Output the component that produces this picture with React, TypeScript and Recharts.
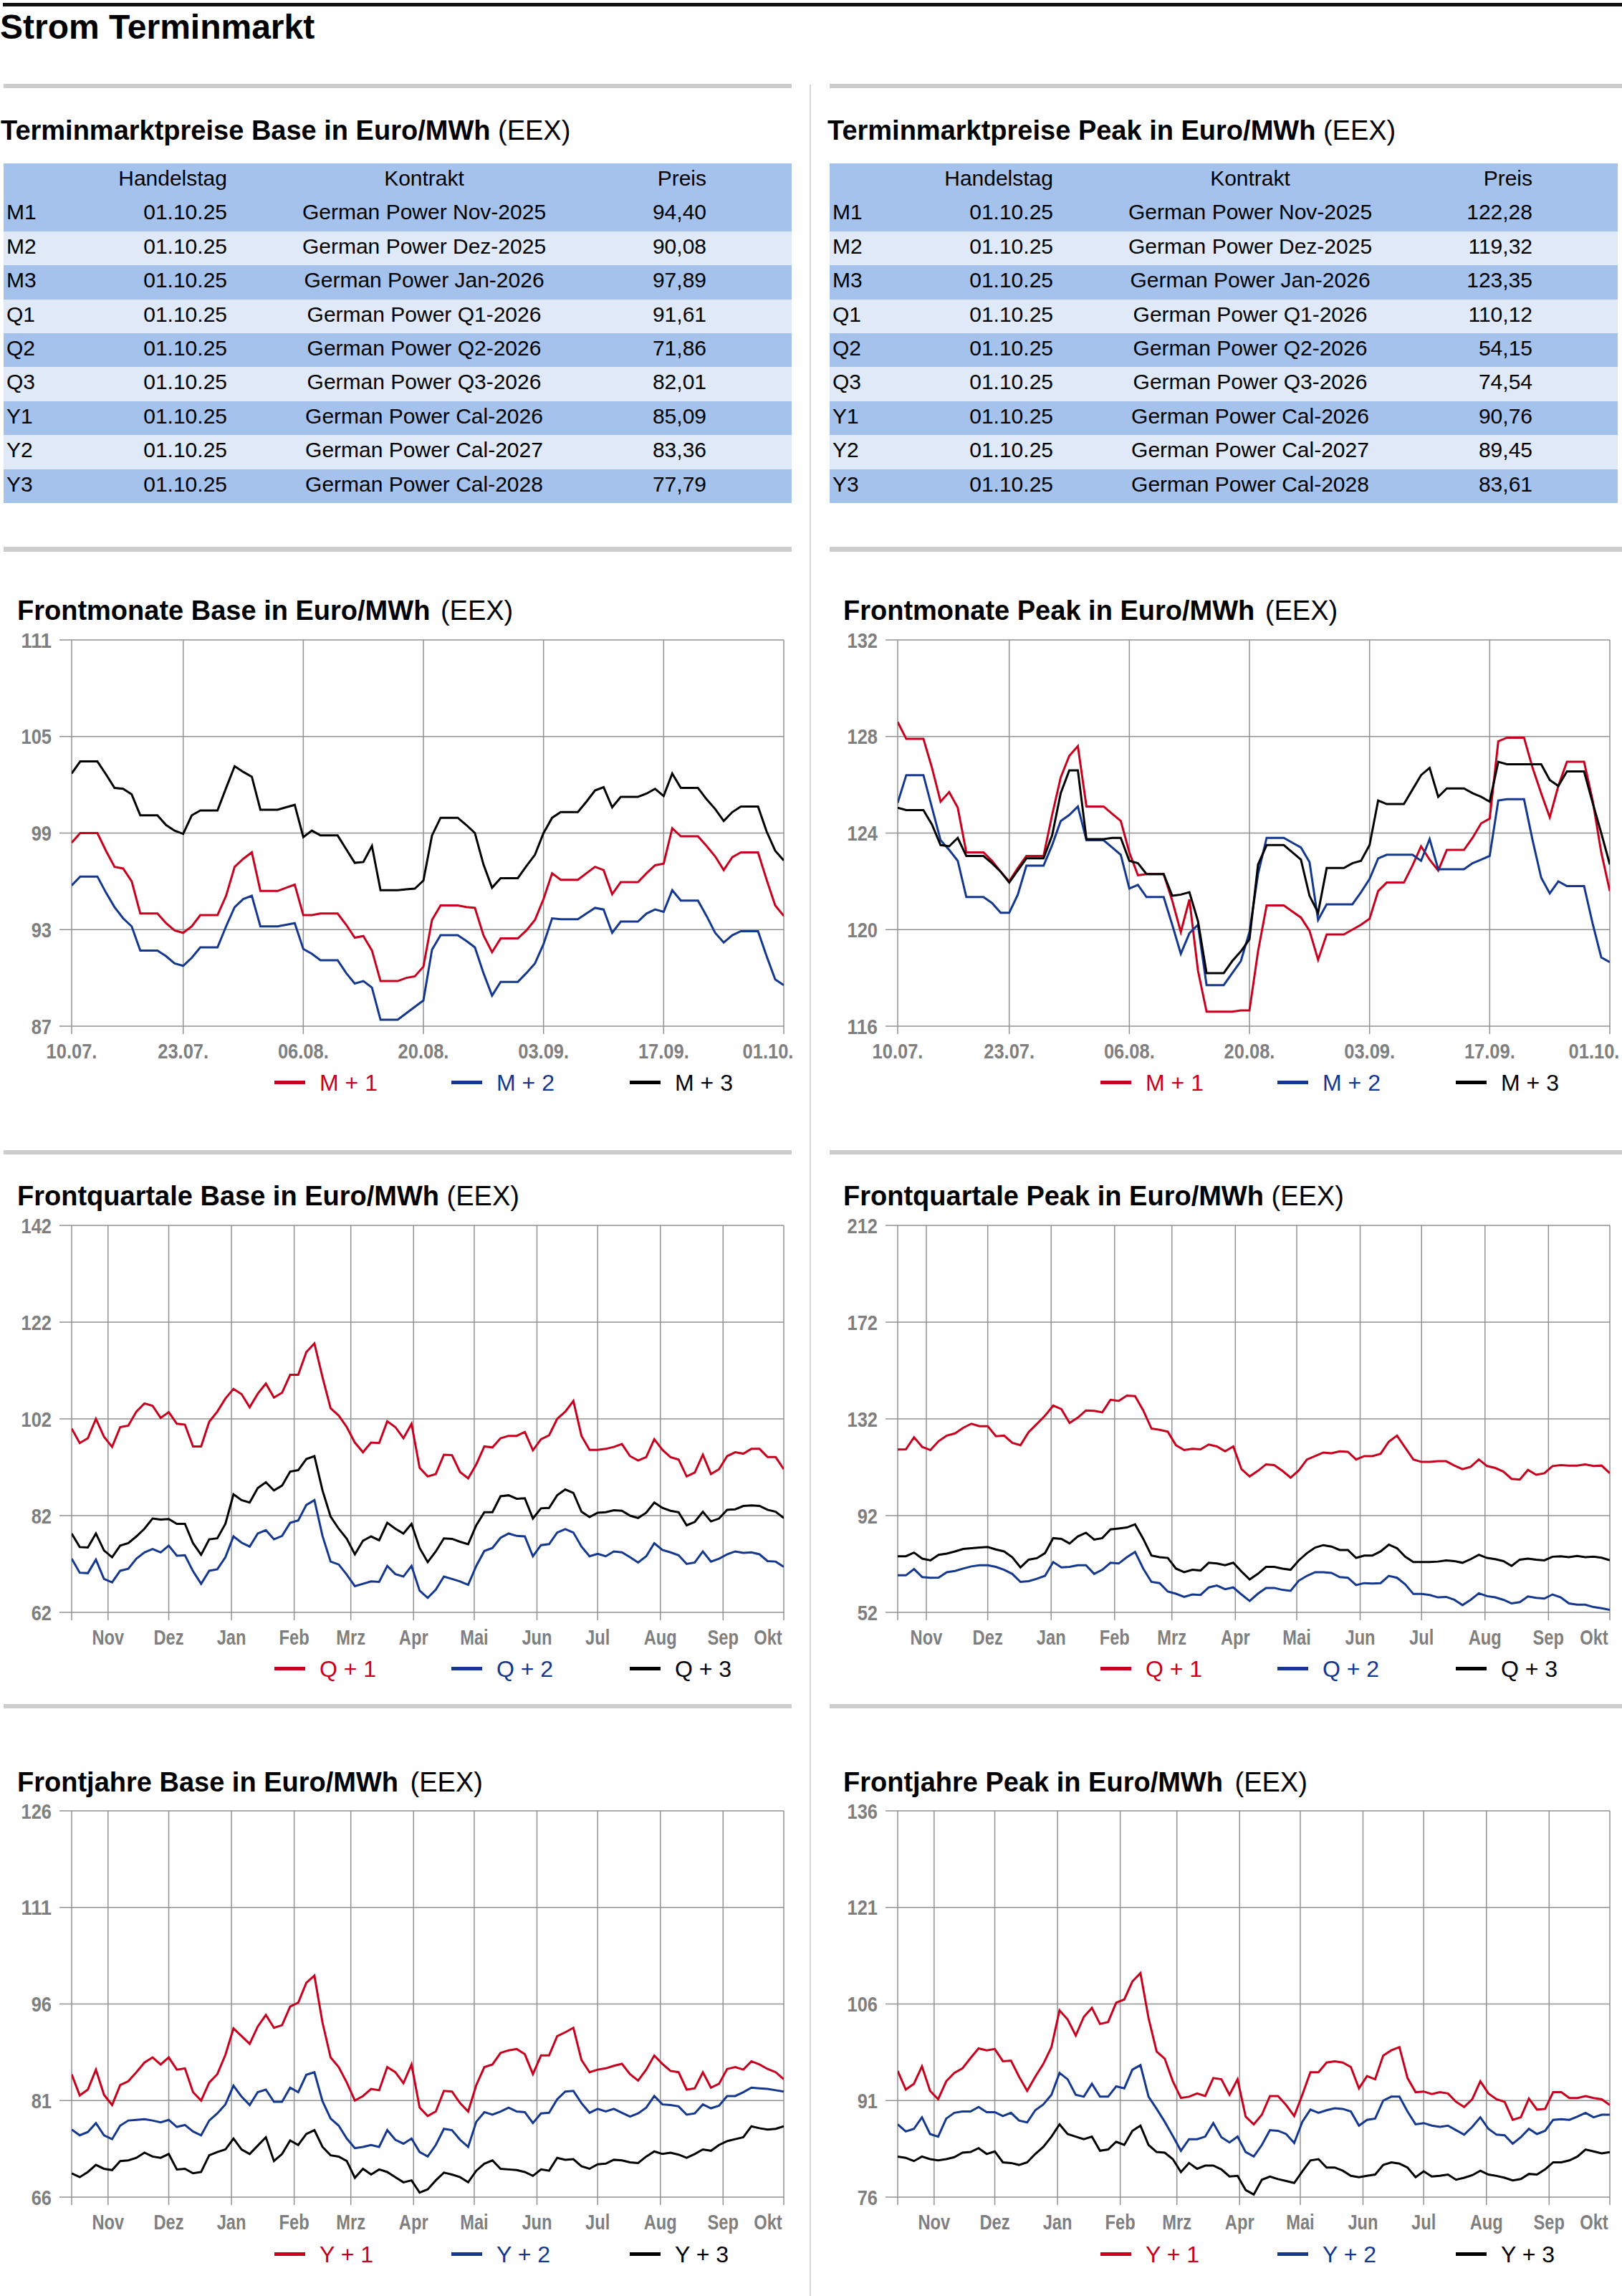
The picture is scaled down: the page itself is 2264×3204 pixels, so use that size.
import React from 'react';
import { LineChart, Line, XAxis, YAxis, CartesianGrid } from 'recharts';

const RED = '#c8001e';
const BLUE = '#14378f';
const BLACK = '#000000';
const GRID = '#929292';
const AXIS_GRAY = '#7f7f7f';
const FONT = "'Liberation Sans', Arial, Helvetica, sans-serif";

// ---------- tables ----------
const tableLabels = ['M1', 'M2', 'M3', 'Q1', 'Q2', 'Q3', 'Y1', 'Y2', 'Y3'];
const tradeDates = ['01.10.25', '01.10.25', '01.10.25', '01.10.25', '01.10.25', '01.10.25', '01.10.25', '01.10.25', '01.10.25'];
const contracts = ['German Power Nov-2025', 'German Power Dez-2025', 'German Power Jan-2026', 'German Power Q1-2026', 'German Power Q2-2026', 'German Power Q3-2026', 'German Power Cal-2026', 'German Power Cal-2027', 'German Power Cal-2028'];
const basePrices = ['94,40', '90,08', '97,89', '91,61', '71,86', '82,01', '85,09', '83,36', '77,79'];
const peakPrices = ['122,28', '119,32', '123,35', '110,12', '54,15', '74,54', '90,76', '89,45', '83,61'];

// ---------- front months (daily, 10.07. - 01.10.) ----------
const fmDays = Array.from({ length: 84 }, (_, i) => i);
const fmTicks = [0, 13, 27, 41, 55, 69, 83];
const fmTickLabels = ['10.07.', '23.07.', '06.08.', '20.08.', '03.09.', '17.09.', '01.10.'];

const mBase1 = [98.4, 99.0, 99.0, 99.0,
  97.9, 96.9, 96.8, 96.0, 94.0, 94.0, 94.0,
  93.4, 92.95, 92.8, 93.2, 93.9, 93.9, 93.9,
  95.1, 96.9, 97.4, 97.8, 95.4, 95.4, 95.4,
  95.6, 95.8, 93.9, 93.9, 94.0, 94.0, 94.0,
  93.3, 92.5, 92.6, 91.7, 89.8, 89.8, 89.8,
  90.0, 90.1, 90.7, 93.6, 94.5, 94.5, 94.5,
  94.4, 94.35, 92.65, 91.6, 92.45, 92.45, 92.45,
  92.95, 93.6, 94.9, 96.5, 96.1, 96.1, 96.1,
  96.5, 96.9, 96.7, 95.2, 95.95, 95.95, 95.95,
  96.5, 97.0, 97.1, 99.3, 98.8, 98.8, 98.8,
  98.2, 97.55, 96.7, 97.5, 97.8, 97.8, 97.8,
  96.1, 94.5, 93.85];
const mBase2 = [95.74, 96.3, 96.3, 96.3,
  95.3, 94.4, 93.7, 93.2, 91.7, 91.7, 91.7,
  91.35, 90.9, 90.75, 91.25, 91.9, 91.9, 91.9,
  93.2, 94.4, 94.9, 95.1, 93.2, 93.2, 93.2,
  93.3, 93.4, 91.8, 91.5, 91.1, 91.1, 91.1,
  90.3, 89.65, 89.8, 89.4, 87.4, 87.4, 87.4,
  87.8, 88.2, 88.6, 91.75, 92.65, 92.65, 92.65,
  92.3, 91.9, 90.3, 88.9, 89.75, 89.75, 89.75,
  90.3, 90.9, 92.1, 93.7, 93.65, 93.65, 93.65,
  94.0, 94.35, 94.25, 92.8, 93.5, 93.5, 93.5,
  94.0, 94.25, 94.1, 95.45, 94.8, 94.8, 94.8,
  93.85, 92.8, 92.2, 92.65, 92.9, 92.9, 92.9,
  91.35, 89.9, 89.55];
const mBase3 = [102.7, 103.45, 103.45, 103.45,
  102.65, 101.8, 101.75, 101.4, 100.1, 100.1, 100.1,
  99.5, 99.15, 98.95, 100.1, 100.4, 100.4, 100.4,
  101.8, 103.15, 102.8, 102.5, 100.45, 100.45, 100.45,
  100.6, 100.75, 98.75, 99.15, 98.85, 98.85, 98.85,
  98.0, 97.15, 97.2, 98.2, 95.45, 95.45, 95.45,
  95.5, 95.55, 96.05, 98.85, 99.95, 99.95, 99.95,
  99.5, 99.0, 97.05, 95.6, 96.2, 96.2, 96.2,
  96.95, 97.65, 99.0, 99.95, 100.3, 100.3, 100.3,
  100.95, 101.65, 101.85, 100.6, 101.25, 101.25, 101.25,
  101.45, 101.75, 101.3, 102.7, 101.8, 101.8, 101.8,
  101.1, 100.5, 99.75, 100.3, 100.65, 100.65, 100.65,
  99.1, 97.9, 97.3];

const mPeak1 = [128.6, 127.9, 127.9, 127.9,
  126.7, 125.3, 125.7, 125.05, 123.2, 123.2, 123.2,
  122.85, 122.4, 122.0, 122.55, 123.05, 123.05, 123.05,
  124.75, 126.3, 127.2, 127.6, 125.1, 125.1, 125.1,
  124.8, 124.5, 123.2, 122.25, 122.3, 122.3, 122.3,
  121.2, 119.9, 121.25, 118.3, 116.6, 116.6, 116.6,
  116.6, 116.65, 116.65, 119.1, 121.0, 121.0, 121.0,
  120.75, 120.5, 119.95, 118.75, 119.8, 119.8, 119.8,
  120.0, 120.2, 120.45, 121.6, 121.95, 121.95, 121.95,
  122.65, 123.45, 122.9, 122.45, 123.3, 123.3, 123.3,
  123.8, 124.4, 124.6, 127.8, 127.95, 127.95, 127.95,
  126.7, 125.65, 124.65, 125.95, 126.95, 126.95, 126.95,
  125.35, 123.2, 121.6];
const mPeak2 = [125.25, 126.4, 126.4, 126.4,
  125.05, 123.7, 123.3, 122.85, 121.35, 121.35, 121.35,
  121.1, 120.7, 120.7, 121.45, 122.65, 122.65, 122.65,
  123.5, 124.5, 124.75, 125.1, 123.7, 123.7, 123.7,
  123.4, 123.1, 121.7, 121.85, 121.35, 121.35, 121.35,
  120.2, 119.0, 119.85, 120.2, 117.7, 117.7, 117.7,
  118.2, 118.7, 119.9, 122.3, 123.8, 123.8, 123.8,
  123.6, 123.4, 122.8, 120.4, 121.05, 121.05, 121.05,
  121.05, 121.55, 122.1, 122.95, 123.1, 123.1, 123.1,
  123.1, 122.85, 123.75, 122.5, 122.5, 122.5, 122.5,
  122.75, 122.9, 123.05, 125.35, 125.4, 125.4, 125.4,
  123.7, 122.15, 121.5, 122.0, 121.8, 121.8, 121.8,
  120.25, 118.85, 118.65];
const mPeak3 = [125.05, 124.95, 124.95, 124.95,
  124.35, 123.5, 123.45, 123.8, 123.05, 123.05, 123.05,
  122.75, 122.4, 121.95, 122.45, 122.95, 122.95, 122.95,
  123.9, 125.65, 126.6, 126.6, 123.75, 123.75, 123.75,
  123.8, 123.8, 122.85, 122.75, 122.3, 122.3, 122.3,
  121.4, 121.45, 121.55, 120.35, 118.2, 118.2, 118.2,
  118.7, 119.1, 119.6, 122.7, 123.5, 123.5, 123.5,
  123.2, 122.9, 121.4, 120.7, 122.55, 122.55, 122.55,
  122.75, 122.85, 123.5, 125.35, 125.2, 125.2, 125.2,
  125.8, 126.4, 126.7, 125.5, 125.85, 125.85, 125.85,
  125.65, 125.5, 125.3, 126.95, 126.85, 126.85, 126.85,
  126.85, 126.85, 126.2, 125.95, 126.55, 126.55, 126.55,
  125.25, 124.0, 122.7];

// ---------- one-year charts (days since 14.10.2024, every 4th day) ----------
const yrDays = Array.from({ length: 89 }, (_, i) => i * 4);
const qpDays = Array.from({ length: 88 }, (_, i) => 4 + i * 4);
const yrTicks = [0, 18, 48, 79, 110, 138, 169, 199, 230, 260, 291, 322, 352];
const qpTicks = [4, 18, 48, 79, 110, 138, 169, 199, 230, 260, 291, 322, 352];
const monthLabels = ['', 'Nov', 'Dez', 'Jan', 'Feb', 'Mrz', 'Apr', 'Mai', 'Jun', 'Jul', 'Aug', 'Sep', 'Okt'];

const qBase1 = [100.0, 97.0, 98.0, 102.0, 98.3, 96.2, 100.3, 100.6, 103.5, 105.2,
  104.7, 102.2, 103.4, 101.0, 100.8, 96.3, 96.3, 101.4, 103.5, 106.2,
  108.2, 107.1, 104.4, 107.2, 109.3, 106.4, 107.4, 111.1, 111.1, 115.8,
  117.6, 110.6, 104.2, 102.7, 100.3, 97.1, 95.1, 97.1, 97.0, 101.5,
  100.3, 98.0, 101.0, 91.9, 90.1, 90.6, 94.6, 94.5, 91.0, 89.7,
  92.6, 96.3, 96.1, 98.0, 98.5, 98.5, 99.3, 95.5, 97.8, 98.6,
  102.0, 103.5, 105.7, 98.5, 95.6, 95.6, 95.8, 96.2, 96.8, 94.3,
  93.4, 94.1, 97.8, 95.6, 94.1, 93.6, 90.1, 90.9, 94.6, 90.6,
  91.6, 94.3, 95.1, 94.8, 95.8, 95.8, 94.1, 94.1, 91.6];
const qBase2 = [73.1, 70.2, 70.1, 72.9, 68.9, 68.2, 70.6, 71.0, 73.1, 74.4,
  75.1, 74.4, 75.8, 73.7, 73.8, 70.5, 67.9, 70.6, 70.9, 73.4,
  77.7, 76.4, 75.6, 78.3, 79.0, 77.1, 77.8, 80.5, 81.0, 84.2,
  85.2, 77.8, 72.5, 71.9, 69.8, 67.4, 67.9, 68.4, 68.3, 71.6,
  69.9, 69.4, 71.6, 66.5, 65.0, 66.7, 69.4, 68.9, 68.4, 67.7,
  71.6, 74.7, 75.3, 77.4, 78.3, 77.8, 77.7, 73.6, 75.9, 76.1,
  78.5, 79.2, 78.5, 75.6, 73.6, 74.1, 73.6, 74.6, 74.4, 73.4,
  72.3, 73.6, 76.3, 74.9, 74.4, 73.8, 72.0, 72.3, 74.6, 72.5,
  73.1, 74.0, 74.6, 74.3, 74.4, 74.0, 72.6, 72.5, 71.4];
const qBase3 = [78.3, 75.5, 75.4, 78.3, 74.8, 73.4, 75.8, 76.3, 77.7, 79.3,
  81.4, 81.2, 81.3, 80.3, 80.3, 76.3, 73.9, 77.1, 77.3, 80.3,
  86.4, 85.2, 84.7, 87.7, 88.9, 87.2, 88.2, 91.1, 91.4, 93.7,
  94.3, 87.2, 81.8, 79.3, 77.2, 74.0, 76.8, 77.7, 76.9, 80.5,
  79.3, 78.3, 80.3, 75.3, 72.4, 74.6, 77.3, 77.2, 76.6, 76.1,
  80.0, 82.7, 82.7, 86.0, 86.2, 85.5, 85.6, 81.4, 83.5, 83.6,
  86.2, 87.4, 86.7, 82.8, 81.7, 82.6, 82.7, 83.1, 83.0, 82.0,
  81.5, 82.6, 84.7, 83.6, 83.0, 82.7, 80.0, 80.7, 82.8, 80.8,
  81.4, 83.2, 83.3, 84.0, 84.1, 84.0, 83.2, 82.8, 81.5];

const qPeak1 = [119.3, 119.4, 124.4, 120.4, 119.1, 122.8, 125.1, 126.0, 128.3, 130.0,
  129.0, 129.0, 124.8, 125.1, 122.1, 121.1, 126.5, 129.9, 133.3, 137.5,
  136.0, 130.3, 132.5, 135.5, 135.3, 134.7, 139.9, 139.4, 141.6, 141.4,
  135.5, 128.0, 127.5, 126.7, 121.1, 119.1, 119.6, 119.4, 121.4, 120.6,
  118.6, 120.6, 111.2, 108.2, 110.5, 113.2, 112.9, 110.5, 107.7, 110.7,
  115.2, 116.6, 118.1, 117.8, 118.6, 118.4, 115.2, 116.6, 116.6, 117.6,
  122.6, 125.1, 120.1, 115.2, 114.2, 114.2, 114.5, 114.5, 112.7, 111.2,
  112.2, 115.2, 112.5, 111.7, 110.2, 107.2, 106.9, 110.9, 108.9, 109.5,
  112.5, 112.9, 112.7, 112.7, 113.2, 112.5, 112.7, 109.5];
const qPeak2 = [67.3, 67.3, 69.9, 66.6, 66.3, 66.4, 68.6, 69.1, 70.1, 71.0,
  71.5, 71.5, 70.8, 69.6, 67.9, 64.6, 64.9, 65.9, 67.1, 72.8,
  70.6, 70.8, 71.5, 71.5, 67.9, 69.6, 72.5, 72.2, 74.8, 77.0,
  70.1, 64.6, 64.1, 60.6, 59.7, 58.4, 59.4, 59.2, 62.3, 63.1,
  61.6, 62.3, 59.4, 56.7, 59.7, 62.1, 62.1, 61.3, 60.9, 65.1,
  67.1, 68.6, 68.6, 68.3, 66.6, 66.3, 63.3, 64.1, 63.9, 64.1,
  67.1, 66.3, 63.6, 59.6, 59.6, 59.2, 58.2, 58.4, 57.2, 55.0,
  57.2, 59.9, 58.7, 58.2, 57.2, 55.7, 56.2, 58.6, 58.0, 57.7,
  59.4, 58.2, 55.7, 55.2, 55.2, 54.2, 53.7, 53.0];
const qPeak3 = [75.2, 75.2, 76.7, 74.2, 73.5, 75.8, 76.3, 77.2, 78.2, 78.5,
  78.8, 79.0, 78.0, 77.2, 74.8, 70.6, 73.8, 74.4, 76.5, 82.7,
  82.4, 80.5, 83.4, 84.9, 82.1, 82.7, 86.3, 86.7, 87.1, 88.4,
  82.4, 75.5, 74.8, 74.5, 70.1, 68.6, 69.6, 69.3, 72.5, 72.2,
  71.5, 72.5, 68.9, 65.6, 67.9, 70.8, 70.8, 70.1, 69.6, 73.5,
  76.5, 78.8, 79.8, 79.2, 77.8, 77.8, 74.5, 75.5, 75.5, 77.2,
  80.0, 78.5, 75.0, 72.8, 72.8, 72.8, 73.0, 73.5, 73.2, 72.5,
  74.0, 75.8, 74.5, 74.0, 73.2, 71.2, 73.8, 74.2, 73.8, 73.5,
  75.0, 75.2, 74.8, 75.3, 74.8, 75.0, 74.6, 73.5];

const yBase1 = [85.1, 81.8, 82.7, 85.8, 81.9, 80.3, 83.4, 84.0, 85.4, 86.9,
  87.7, 86.6, 87.7, 85.8, 86.0, 82.3, 81.0, 83.8, 85.1, 88.1,
  92.2, 91.0, 89.8, 92.5, 94.3, 92.3, 92.7, 95.6, 96.2, 99.3,
  100.4, 93.1, 87.7, 86.2, 83.8, 81.0, 81.7, 82.8, 82.6, 86.2,
  85.4, 83.7, 86.6, 79.9, 78.6, 79.3, 82.5, 82.4, 80.6, 79.3,
  83.4, 86.2, 86.6, 88.4, 88.8, 89.0, 88.2, 85.1, 88.0, 88.0,
  91.0, 91.6, 92.3, 87.3, 85.4, 85.8, 86.0, 86.4, 86.7, 85.1,
  84.1, 85.8, 88.0, 86.7, 85.6, 85.4, 82.7, 82.9, 85.4, 83.0,
  83.6, 85.9, 86.2, 85.8, 87.1, 86.6, 85.9, 85.4, 84.3];
const yBase2 = [76.5, 75.6, 76.1, 77.5, 75.6, 75.0, 77.1, 77.9, 78.0, 78.1,
  77.9, 77.6, 78.0, 76.9, 77.2, 76.2, 75.6, 77.9, 79.0, 80.4,
  83.3, 81.6, 80.3, 82.3, 82.7, 80.8, 80.8, 83.0, 82.3, 85.0,
  85.4, 80.9, 78.2, 77.1, 75.1, 73.6, 73.8, 74.1, 73.8, 76.4,
  74.9, 74.3, 75.1, 73.0, 72.3, 74.1, 76.6, 76.4, 74.9, 73.8,
  77.7, 79.2, 78.8, 79.3, 79.9, 79.3, 79.2, 77.5, 79.0, 79.1,
  81.2, 82.4, 82.5, 80.6, 79.1, 79.7, 79.3, 79.7, 79.1, 78.5,
  79.0, 79.9, 81.7, 80.4, 80.3, 80.1, 78.8, 79.0, 80.4, 79.8,
  80.2, 81.7, 81.7, 82.3, 83.0, 82.9, 82.8, 82.6, 82.4];
const yBase3 = [69.7, 69.1, 69.9, 71.0, 70.4, 70.2, 71.6, 71.7, 72.1, 72.9,
  72.3, 72.1, 72.7, 70.3, 70.4, 69.7, 69.9, 72.5, 73.0, 73.4,
  75.1, 73.4, 72.7, 74.0, 75.3, 71.6, 72.7, 74.8, 74.1, 75.8,
  76.4, 73.8, 72.5, 72.3, 71.6, 69.0, 70.4, 69.5, 70.3, 69.9,
  69.1, 68.3, 68.6, 66.7, 67.2, 68.6, 69.8, 69.5, 69.1, 68.3,
  70.1, 71.2, 71.7, 70.4, 70.3, 70.2, 69.9, 69.3, 70.3, 70.1,
  72.1, 71.8, 71.9, 70.8, 70.4, 71.1, 71.2, 71.8, 71.7, 71.4,
  71.3, 72.3, 73.1, 72.7, 72.9, 72.6, 72.1, 72.7, 73.4, 73.2,
  74.1, 74.7, 75.0, 75.3, 77.0, 76.7, 76.5, 76.6, 77.0];

const yPeak1 = [95.6, 92.7, 93.6, 96.3, 92.5, 91.2, 94.0, 95.3, 96.0, 97.6,
  99.1, 98.8, 99.0, 97.1, 97.2, 94.7, 92.5, 94.7, 96.7, 99.3,
  105.0, 103.6, 101.1, 104.0, 105.4, 102.9, 103.2, 106.2, 106.7, 109.5,
  110.8, 103.8, 98.6, 97.5, 94.0, 91.4, 91.6, 92.1, 91.7, 94.5,
  94.3, 91.9, 94.3, 88.5, 87.3, 88.8, 91.7, 91.7, 90.3, 88.6,
  91.9, 95.4, 95.4, 96.9, 97.1, 96.9, 96.2, 92.9, 94.8, 94.3,
  98.0, 98.8, 99.3, 94.5, 92.3, 92.4, 92.0, 92.3, 92.1, 90.8,
  90.0, 91.2, 94.0, 92.1, 91.2, 90.8, 88.0, 88.4, 91.3, 89.6,
  89.7, 92.3, 92.3, 91.4, 91.4, 91.7, 91.4, 91.2, 90.3];
const yPeak2 = [87.3, 86.2, 86.6, 88.4, 85.8, 85.4, 88.2, 89.1, 89.3, 89.3,
  90.0, 89.2, 89.2, 88.6, 89.1, 87.9, 87.6, 89.5, 90.4, 91.9,
  95.3, 94.3, 91.9, 91.6, 93.6, 91.6, 91.6, 93.2, 92.9, 95.8,
  96.5, 91.6, 89.7, 87.7, 85.5, 83.2, 85.0, 85.0, 85.4, 87.5,
  85.3, 84.5, 85.4, 83.0, 82.3, 84.1, 86.4, 86.3, 85.8, 84.4,
  87.7, 89.6, 89.1, 89.5, 89.8, 89.7, 89.3, 87.1, 88.0, 88.2,
  91.0, 91.6, 91.6, 89.3, 87.3, 87.5, 87.1, 86.9, 87.1, 86.4,
  85.7, 86.9, 88.4, 86.6, 85.7, 85.6, 84.3, 85.3, 86.6, 85.8,
  86.3, 88.0, 88.1, 88.0, 88.5, 89.1, 88.4, 88.8, 88.8];
const yPeak3 = [82.3, 82.1, 81.6, 82.3, 81.9, 81.7, 81.9, 82.2, 82.9, 83.0,
  83.6, 82.7, 83.1, 81.4, 81.3, 81.0, 81.4, 82.7, 83.8, 85.4,
  87.3, 85.8, 85.4, 85.0, 85.4, 83.2, 83.4, 84.6, 84.1, 86.3,
  87.1, 84.1, 83.0, 82.9, 81.9, 79.9, 81.3, 80.4, 80.9, 80.9,
  80.3, 79.2, 79.3, 77.1, 76.4, 78.7, 79.2, 78.8, 78.5, 78.2,
  80.0, 81.7, 81.9, 80.6, 80.6, 80.1, 79.3, 79.1, 79.3, 79.5,
  81.0, 81.4, 81.2, 80.6, 79.1, 80.0, 79.2, 79.3, 79.5, 78.7,
  79.0, 79.4, 80.1, 79.5, 79.3, 79.0, 78.6, 78.8, 79.6, 79.5,
  80.3, 81.4, 81.4, 81.7, 82.3, 83.4, 83.1, 82.8, 83.0];

// y-axis ticks
const fmBaseY = [87, 93, 99, 105, 111];
const fmPeakY = [116, 120, 124, 128, 132];
const fqBaseY = [62, 82, 102, 122, 142];
const fqPeakY = [52, 92, 132, 172, 212];
const fyBaseY = [66, 81, 96, 111, 126];
const fyPeakY = [76, 91, 106, 121, 136];

const COL2 = 1153;
const AXIS_SIZE = 30;

// approximate bold glyph widths (em) used to condense axis labels
const BOLD_W: Record<string, number> = {
  N: 0.722, o: 0.611, v: 0.556, D: 0.722, e: 0.556, z: 0.5, J: 0.556, a: 0.556, n: 0.611,
  F: 0.611, b: 0.611, M: 0.833, r: 0.389, A: 0.722, p: 0.611, i: 0.278, u: 0.611, l: 0.278,
  g: 0.611, S: 0.667, k: 0.556, O: 0.778, t: 0.333,
};
function condensedWidth(s: string) {
  let w = 0;
  for (const ch of s) {
    if (ch >= '0' && ch <= '9') w += 0.556 * 0.85;
    else if (ch === '.') w += 0.278 * 0.85;
    else w += (BOLD_W[ch] ?? 0.6) * 0.79;
  }
  return w * AXIS_SIZE;
}

function AxisText({ x, y, dy, anchor, label }: { x: number; y: number; dy: string; anchor: string; label: string }) {
  if (!label) return null;
  return (
    <text
      x={x}
      y={y}
      dy={dy}
      textAnchor={anchor as any}
      fill={AXIS_GRAY}
      fontSize={AXIS_SIZE}
      fontWeight="bold"
      fontFamily={FONT}
      textLength={condensedWidth(label)}
      lengthAdjust="spacingAndGlyphs"
    >
      {label}
    </text>
  );
}

type ChartProps = {
  left: number;
  plotTop: number;
  plotHeight: number;
  days: number[];
  s1: number[];
  s2: number[];
  s3: number[];
  yTicks: number[];
  xTicks: number[];
  xLabels: string[];
};

function PriceChart({ left, plotTop, plotHeight, days, s1, s2, s3, yTicks, xTicks, xLabels }: ChartProps) {
  const data = days.map((d, i) => ({ d, a: s1[i], b: s2[i], c: s3[i] }));
  const lastTick = xTicks[xTicks.length - 1];
  const renderXTick = (p: any) => {
    const v = p.payload.value;
    const idx = xTicks.indexOf(v);
    const label = idx >= 0 ? xLabels[idx] : '';
    const x = v === lastTick ? p.x - 22 : p.x;
    return <AxisText x={x} y={p.y} dy="0.71em" anchor="middle" label={label} />;
  };
  const renderYTick = (p: any) => <AxisText x={p.x} y={p.y} dy="0.355em" anchor="end" label={String(p.payload.value)} />;
  const mTop = 20;
  const xH = 70;
  return (
    <div style={{ position: 'absolute', left, top: plotTop - mTop }}>
      <LineChart width={1130} height={mTop + plotHeight + xH} data={data} margin={{ top: mTop, right: 36, bottom: 0, left: 0 }}>
        <CartesianGrid stroke={GRID} strokeWidth={1.5} />
        <XAxis
          dataKey="d"
          type="number"
          domain={[xTicks[0], lastTick]}
          ticks={xTicks}
          interval={0}
          height={xH}
          tickSize={11}
          tickMargin={13}
          axisLine={false}
          tickLine={{ stroke: GRID, strokeWidth: 1.5 }}
          tick={renderXTick}
          allowDataOverflow
        />
        <YAxis
          type="number"
          domain={[yTicks[0], yTicks[yTicks.length - 1]]}
          ticks={yTicks}
          interval={0}
          width={100}
          tickSize={17}
          tickMargin={11}
          axisLine={false}
          tickLine={{ stroke: GRID, strokeWidth: 1.5 }}
          tick={renderYTick}
          allowDataOverflow
        />
        <Line type="linear" dataKey="a" stroke={RED} strokeWidth={3} dot={false} isAnimationActive={false} />
        <Line type="linear" dataKey="b" stroke={BLUE} strokeWidth={3} dot={false} isAnimationActive={false} />
        <Line type="linear" dataKey="c" stroke={BLACK} strokeWidth={3} dot={false} isAnimationActive={false} />
      </LineChart>
    </div>
  );
}

function ChartLegend({ left, cy, names }: { left: number; cy: number; names: string[] }) {
  const items = [
    { c: RED, x: 383 },
    { c: BLUE, x: 630 },
    { c: BLACK, x: 879 },
  ];
  return (
    <>
      {items.map((it, i) => (
        <React.Fragment key={i}>
          <div style={{ position: 'absolute', left: left + it.x, top: cy - 2.5, width: 43, height: 5, background: it.c }} />
          <div style={{ position: 'absolute', left: left + it.x + 63, top: cy + 12 - 27, fontSize: 32, lineHeight: 1, color: it.c, whiteSpace: 'pre' }}>
            {names[i]}
          </div>
        </React.Fragment>
      ))}
    </>
  );
}

function Title({ left, baseline, bold, rest, size = 38, gap = 0 }: { left: number; baseline: number; bold: string; rest: string; size?: number; gap?: number }) {
  return (
    <div style={{ position: 'absolute', left, top: baseline - Math.round(size * 0.8465), fontSize: size, lineHeight: 1, whiteSpace: 'pre', color: '#000' }}>
      <span style={{ fontWeight: 'bold' }}>{bold}</span>
      <span style={{ marginLeft: gap }}>{rest}</span>
    </div>
  );
}

function PriceTable({ left, prices }: { left: number; prices: string[] }) {
  const rowH = 47.4;
  const top0 = 228;
  const width = 1100;
  const rows = [{ label: '', date: 'Handelstag', contract: 'Kontrakt', price: 'Preis' }].concat(
    tableLabels.map((l, i) => ({ label: l, date: tradeDates[i], contract: contracts[i], price: prices[i] }))
  );
  return (
    <>
      {rows.map((r, i) => {
        const dark = i === 0 || i % 2 === 1;
        const top = top0 + i * rowH;
        const txt: React.CSSProperties = { position: 'absolute', top: 0, fontSize: 30, lineHeight: '41px', whiteSpace: 'pre' };
        return (
          <div key={i} style={{ position: 'absolute', left, top, width, height: rowH + 0.5, background: dark ? '#a4c2ec' : '#dfe9f8' }}>
            <div style={{ ...txt, left: 4 }}>{r.label}</div>
            <div style={{ ...txt, left: 0, width: 312, textAlign: 'right' }}>{r.date}</div>
            <div style={{ ...txt, left: 337, width: 500, textAlign: 'center' }}>{r.contract}</div>
            <div style={{ ...txt, left: 0, width: 981, textAlign: 'right' }}>{r.price}</div>
          </div>
        );
      })}
    </>
  );
}

function Sep({ top, height = 6 }: { top: number; height?: number }) {
  return (
    <>
      <div style={{ position: 'absolute', left: 5, top, width: 1100, height, background: '#cdcdcd' }} />
      <div style={{ position: 'absolute', left: 1158, top, width: 1106, height, background: '#cdcdcd' }} />
    </>
  );
}

export default function App() {
  return (
    <div style={{ position: 'absolute', left: 0, top: 0, width: 2264, height: 3204, background: '#fff', fontFamily: FONT, color: '#000', overflow: 'hidden' }}>
      <div style={{ position: 'absolute', left: 4, top: 4, width: 2260, height: 5, background: '#111' }} />
      <div style={{ position: 'absolute', left: 0, top: 14, fontSize: 48, lineHeight: 1, fontWeight: 'bold', whiteSpace: 'pre' }}>Strom Terminmarkt</div>

      <div style={{ position: 'absolute', left: 1130, top: 118, width: 2, height: 3086, background: '#d6d6d6' }} />

      <Sep top={117} />
      <Title left={1} baseline={195} bold="Terminmarktpreise Base in Euro/MWh" rest=" (EEX)" />
      <Title left={1155} baseline={195} bold="Terminmarktpreise Peak in Euro/MWh" rest=" (EEX)" />
      <PriceTable left={5} prices={basePrices} />
      <PriceTable left={1158} prices={peakPrices} />

      <Sep top={763} height={7} />
      <Title left={24} baseline={865} bold="Frontmonate Base in Euro/MWh" rest=" (EEX)" gap={4} />
      <Title left={24 + COL2} baseline={865} bold="Frontmonate Peak in Euro/MWh" rest=" (EEX)" gap={4} />
      <PriceChart left={0} plotTop={893} plotHeight={539} days={fmDays} s1={mBase1} s2={mBase2} s3={mBase3} yTicks={fmBaseY} xTicks={fmTicks} xLabels={fmTickLabels} />
      <PriceChart left={COL2} plotTop={893} plotHeight={539} days={fmDays} s1={mPeak1} s2={mPeak2} s3={mPeak3} yTicks={fmPeakY} xTicks={fmTicks} xLabels={fmTickLabels} />
      <ChartLegend left={0} cy={1510} names={['M + 1', 'M + 2', 'M + 3']} />
      <ChartLegend left={COL2} cy={1510} names={['M + 1', 'M + 2', 'M + 3']} />

      <Sep top={1605} />
      <Title left={24} baseline={1682} bold="Frontquartale Base in Euro/MWh" rest=" (EEX)" />
      <Title left={24 + COL2} baseline={1682} bold="Frontquartale Peak in Euro/MWh" rest=" (EEX)" />
      <PriceChart left={0} plotTop={1710} plotHeight={540} days={yrDays} s1={qBase1} s2={qBase2} s3={qBase3} yTicks={fqBaseY} xTicks={yrTicks} xLabels={monthLabels} />
      <PriceChart left={COL2} plotTop={1710} plotHeight={540} days={qpDays} s1={qPeak1} s2={qPeak2} s3={qPeak3} yTicks={fqPeakY} xTicks={qpTicks} xLabels={monthLabels} />
      <ChartLegend left={0} cy={2328} names={['Q + 1', 'Q + 2', 'Q + 3']} />
      <ChartLegend left={COL2} cy={2328} names={['Q + 1', 'Q + 2', 'Q + 3']} />

      <Sep top={2378} />
      <Title left={24} baseline={2500} bold="Frontjahre Base in Euro/MWh" rest=" (EEX)" gap={6} />
      <Title left={24 + COL2} baseline={2500} bold="Frontjahre Peak in Euro/MWh" rest=" (EEX)" gap={6} />
      <PriceChart left={0} plotTop={2527} plotHeight={539} days={yrDays} s1={yBase1} s2={yBase2} s3={yBase3} yTicks={fyBaseY} xTicks={yrTicks} xLabels={monthLabels} />
      <PriceChart left={COL2} plotTop={2527} plotHeight={539} days={yrDays} s1={yPeak1} s2={yPeak2} s3={yPeak3} yTicks={fyPeakY} xTicks={yrTicks} xLabels={monthLabels} />
      <ChartLegend left={0} cy={3145} names={['Y + 1', 'Y + 2', 'Y + 3']} />
      <ChartLegend left={COL2} cy={3145} names={['Y + 1', 'Y + 2', 'Y + 3']} />
    </div>
  );
}
